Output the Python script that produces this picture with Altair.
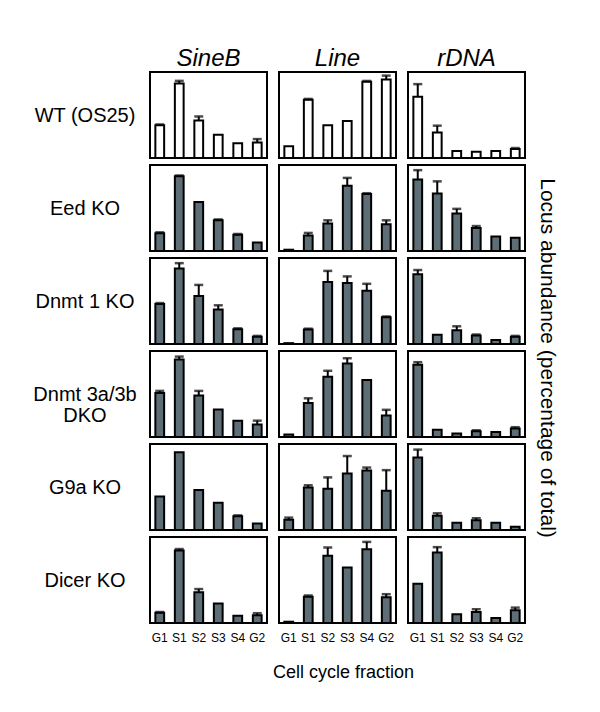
import altair as alt
import pandas as pd

fractions = ["G1", "S1", "S2", "S3", "S4", "G2"]
loci = ["SineB", "Line", "rDNA"]
genotypes = ["WT (OS25)", "Eed KO", "Dnmt 1 KO", "Dnmt 3a/3b\nDKO", "G9a KO", "Dicer KO"]
x_title = "Cell cycle fraction"
y_title = "Locus abundance (percentage of total)"

# bar heights (percent of panel scale) and error bar sizes, per genotype / locus
wt_sineb = [38, 86.7, 43.7, 27, 17.1, 17.9]
wt_sineb_err = [1, 3, 4.6, 0, 0, 4.1]
wt_line = [13.7, 67.7, 38, 43, 88.6, 91.3]
wt_line_err = [0, 1, 0, 0, 1, 4.5]
wt_rdna = [71.1, 29.7, 8, 7.2, 8, 10.6]
wt_rdna_err = [14.8, 7.9, 0, 0, 0, 1]

eed_sineb = [20.7, 86.8, 57.1, 35.7, 18.8, 10]
eed_sineb_err = [1, 1, 0, 1, 1, 0]
eed_line = [1.5, 18, 32, 76, 66.2, 31.2]
eed_line_err = [0, 3, 3.7, 9, 1, 4.5]
eed_rdna = [83, 67, 43.6, 26.7, 17, 15.4]
eed_rdna_err = [11, 14, 5.4, 2.3, 0, 0]

dnmt1_sineb = [46.6, 87.8, 55.7, 40, 17.2, 8.4]
dnmt1_sineb_err = [1, 6.2, 13, 5, 1, 1]
dnmt1_line = [1, 16.8, 72, 71, 61.8, 31]
dnmt1_line_err = [0, 1, 13, 7.6, 8.2, 1]
dnmt1_rdna = [81, 10.7, 16, 10, 4.6, 8.4]
dnmt1_rdna_err = [5, 0, 4.6, 1, 0, 1]

dnmt3_sineb = [51.3, 90, 48.3, 32, 19, 14.4]
dnmt3_sineb_err = [2.3, 3.5, 5.3, 0, 0, 4.6]
dnmt3_line = [3, 39.5, 70, 85.5, 66.2, 25]
dnmt3_line_err = [0, 5.5, 7, 6.1, 0, 6.6]
dnmt3_rdna = [84, 8.4, 4.2, 6.8, 5.7, 9.9]
dnmt3_rdna_err = [3, 0, 0, 1, 0, 1.5]

g9a_sineb = [39, 90.5, 46.4, 31.6, 16, 7.6]
g9a_sineb_err = [0, 0, 0, 0, 1, 0]
g9a_line = [11.8, 49.4, 47.9, 65.8, 69.2, 45.6]
g9a_line_err = [2.6, 2.6, 13.3, 20.2, 3.4, 24]
g9a_rdna = [84.4, 16.7, 8.4, 11.4, 8.4, 3.8]
g9a_rdna_err = [9.1, 2.7, 0, 2.3, 0, 0]

dicer_sineb = [11.8, 84.4, 35.7, 22.8, 8.4, 9.1]
dicer_sineb_err = [1, 1.6, 3.8, 0, 0, 2.3]
dicer_line = [1.5, 30.4, 78.3, 64.6, 85.9, 30]
dicer_line_err = [0, 1.6, 9.5, 0, 8.4, 3.5]
dicer_rdna = [45.6, 82.1, 10.3, 12.9, 5.7, 14.8]
dicer_rdna_err = [0, 6.1, 0, 3.1, 0, 3.1]

table = {
    genotypes[0]: [(wt_sineb, wt_sineb_err), (wt_line, wt_line_err), (wt_rdna, wt_rdna_err)],
    genotypes[1]: [(eed_sineb, eed_sineb_err), (eed_line, eed_line_err), (eed_rdna, eed_rdna_err)],
    genotypes[2]: [(dnmt1_sineb, dnmt1_sineb_err), (dnmt1_line, dnmt1_line_err), (dnmt1_rdna, dnmt1_rdna_err)],
    genotypes[3]: [(dnmt3_sineb, dnmt3_sineb_err), (dnmt3_line, dnmt3_line_err), (dnmt3_rdna, dnmt3_rdna_err)],
    genotypes[4]: [(g9a_sineb, g9a_sineb_err), (g9a_line, g9a_line_err), (g9a_rdna, g9a_rdna_err)],
    genotypes[5]: [(dicer_sineb, dicer_sineb_err), (dicer_line, dicer_line_err), (dicer_rdna, dicer_rdna_err)],
}

rows = []
for g in genotypes:
    for locus, (vals, errs) in zip(loci, table[g]):
        for f, v, e in zip(fractions, vals, errs):
            rows.append({
                "genotype": g, "locus": locus, "fraction": f,
                "value": v, "err": e, "top": v + e,
                "fillcol": "white" if g == genotypes[0] else "#5e6e76",
                "xtitle": x_title, "ytitle": y_title,
            })
df = pd.DataFrame(rows)

FONT = "Liberation Sans"
W, H = 117, 86

xenc = alt.X(
    "fraction:N", sort=fractions,
    scale=alt.Scale(paddingInner=0.55, paddingOuter=0.275),
    axis=alt.Axis(title=None, labelAngle=0, domain=False, ticks=False,
                  labelFontSize=12, labelPadding=9, labelColor="black", labelFont=FONT),
)
yscale = alt.Scale(domain=[0, 100])

base = alt.Chart()
bars = base.mark_bar(stroke="black", strokeWidth=2).encode(
    x=xenc,
    y=alt.Y("value:Q", scale=yscale, axis=None),
    fill=alt.Fill("fillcol:N", scale=None),
)
rules = base.transform_filter("datum.err > 0").mark_rule(color="black", strokeWidth=2).encode(
    x=xenc,
    y=alt.Y("value:Q", scale=yscale, axis=None),
    y2="top:Q",
)
caps = base.transform_filter("datum.err > 0").mark_tick(color="black", thickness=2.5, size=9).encode(
    x=xenc,
    y=alt.Y("top:Q", scale=yscale, axis=None),
)
row_labels = base.transform_filter(
    "datum.locus == 'SineB' && datum.fraction == 'G1'"
).mark_text(
    align="center", baseline="middle", fontSize=20, font=FONT, color="black",
    lineBreak="\n", lineHeight=21,
).encode(
    x=alt.value(-65), y=alt.value(H / 2 + 1), text="genotype:N",
)
bottom_title = base.transform_filter(
    f"datum.locus == 'Line' && datum.fraction == 'G1' && datum.genotype == '{genotypes[-1]}'"
).mark_text(
    align="center", baseline="alphabetic", fontSize=18, font=FONT, color="black",
).encode(
    x=alt.value(W / 2 + 6), y=alt.value(H + 55), text="xtitle:N",
)
right_title = base.transform_filter(
    f"datum.locus == 'rDNA' && datum.fraction == 'G1' && datum.genotype == '{genotypes[2]}'"
).mark_text(
    align="center", baseline="middle", fontSize=21, font=FONT, color="black", angle=90,
).encode(
    x=alt.value(W + 22), y=alt.value(100), text="ytitle:N",
)

chart = alt.layer(bars, rules, caps, row_labels, bottom_title, right_title, data=df).properties(
    width=W, height=H
).facet(
    row=alt.Row("genotype:N", sort=genotypes, header=alt.Header(title=None, labels=False)),
    column=alt.Column(
        "locus:N", sort=loci,
        header=alt.Header(
            title=None,
            labelOrient="top", labelFontSize=24, labelFontStyle="italic", labelFont=FONT,
            labelColor="black", labelPadding=1,
        ),
    ),
    spacing={"row": 7, "column": 12},
    bounds="flush",
).configure_view(
    stroke="black", strokeWidth=2
).properties(padding={"left": 24, "top": 39, "right": 5, "bottom": 5})

chart.save("out.html", embed_options={"renderer": "svg", "actions": False})
